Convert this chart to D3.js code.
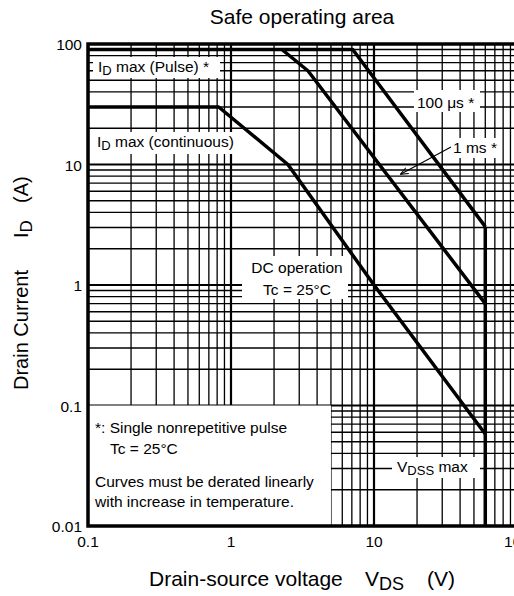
<!DOCTYPE html>
<html>
<head>
<meta charset="utf-8">
<script src="https://cdn.jsdelivr.net/npm/d3@7"></script>
<style>
  body { margin: 0; background: #fff; }
  text { font-family: "Liberation Sans", Arial, sans-serif; fill: #000; }
</style>
</head>
<body>
<div id="chart"></div>
<script>
// safe operating area chart

var xTickLabels = ['0.1', '1', '10', '100'];
var yTickLabels = ['0.01', '0.1', '1', '10', '100'];

// curves (V, A)
var pulse100usV = [0.1, 7.1, 60];
var pulse100usA = [90, 90, 3.05];
var pulse1msV = [2.27, 3.45, 60];
var pulse1msA = [90, 60, 0.7];
var dcV = [0.1, 0.82, 2.5, 10, 60];
var dcA = [30, 30, 10, 1, 0.058];
var vdssV = [60, 60];
var vdssA = [3.05, 0.01];

var width = 514, height = 596;
var plotLeft = 88, plotRight = 517, plotTop = 44, plotBottom = 526;

var x = d3.scaleLog().domain([0.1, 100]).range([plotLeft, plotRight]);
var y = d3.scaleLog().domain([0.01, 100]).range([plotBottom, plotTop]);

var svg = d3.select('#chart').append('svg')
  .attr('width', width)
  .attr('height', height);

var defs = svg.append('defs');

defs.append('clipPath').attr('id', 'plot')
  .append('rect').attr('x', plotLeft).attr('y', plotTop)
  .attr('width', plotRight - plotLeft).attr('height', plotBottom - plotTop);

var grid = svg.append('g').attr('clip-path', 'url(#plot)');

function gridValues(lo, hi) {
  var vals = [];
  for (var d = lo; d < hi * 1.001; d *= 10) {
    for (var m = 1; m <= 9; m++) {
      if (d * m <= hi * 1.001) vals.push({ v: d * m, major: m === 1 });
    }
  }
  return vals;
}

gridValues(0.1, 100).forEach(function(g) {
  grid.append('line')
    .attr('x1', x(g.v)).attr('x2', x(g.v))
    .attr('y1', plotTop).attr('y2', plotBottom)
    .attr('stroke', '#000')
    .attr('stroke-width', g.major ? 2.2 : 1.3);
});

gridValues(0.01, 100).forEach(function(g) {
  grid.append('line')
    .attr('x1', plotLeft).attr('x2', plotRight)
    .attr('y1', y(g.v)).attr('y2', y(g.v))
    .attr('stroke', '#000')
    .attr('stroke-width', g.major ? 2.2 : 1.3);
});

// white note area in the lower left
grid.append('rect')
  .attr('x', plotLeft).attr('y', y(0.1))
  .attr('width', x(5) - plotLeft).attr('height', plotBottom - y(0.1))
  .attr('fill', '#fff');

var line = d3.line()
  .x(function(d) { return x(d[0]); })
  .y(function(d) { return y(d[1]); });

function pairs(vs, as) {
  return vs.map(function(v, i) { return [v, as[i]]; });
}

[pairs(pulse100usV, pulse100usA), pairs(pulse1msV, pulse1msA), pairs(dcV, dcA), pairs(vdssV, vdssA)]
  .forEach(function(data) {
    grid.append('path')
      .attr('d', line(data))
      .attr('fill', 'none')
      .attr('stroke', '#000')
      .attr('stroke-width', 3.5)
      .attr('stroke-linejoin', 'round');
  });

// frame
svg.append('path')
  .attr('d', 'M' + plotRight + ',' + plotTop + 'H' + plotLeft + 'V' + plotBottom + 'H' + plotRight)
  .attr('fill', 'none')
  .attr('stroke', '#000')
  .attr('stroke-width', 3.5);

// label boxes
function box(bx, by, bw, bh) {
  svg.append('rect').attr('x', bx).attr('y', by)
    .attr('width', bw).attr('height', bh).attr('fill', '#fff');
}

function label(tx, ty, parts, anchor) {
  var t = svg.append('text')
    .attr('x', tx).attr('y', ty)
    .attr('font-size', 15.5)
    .attr('text-anchor', anchor || 'start');
  parts.forEach(function(p) {
    var s = t.append('tspan').text(p[0]);
    if (p[1] === 'sub') s.attr('font-size', 13).attr('dy', 3);
    if (p[1] === 'up') s.attr('dy', -3);
  });
  return t;
}

box(93, 57, 127, 21);
label(98, 72, [['I'], ['D', 'sub'], [' max (Pulse) *', 'up']]);

box(93, 132, 150, 22);
label(97, 147, [['I'], ['D', 'sub'], [' max (continuous)', 'up']]);

box(414, 90, 66, 22);
label(417, 108, [['100 \u03bcs *']]);

box(451, 138, 49, 20);
label(453, 153, [['1 ms *']]);

defs.append('marker')
  .attr('id', 'arrow').attr('viewBox', '0 0 10 10')
  .attr('refX', 9).attr('refY', 5)
  .attr('markerWidth', 8).attr('markerHeight', 8)
  .attr('markerUnits', 'userSpaceOnUse')
  .attr('orient', 'auto')
  .append('path').attr('d', 'M0,1 L10,5 L0,9').attr('fill', 'none')
  .attr('stroke', '#000').attr('stroke-width', 1.3);

svg.append('line')
  .attr('x1', 451).attr('y1', 147).attr('x2', 401).attr('y2', 174)
  .attr('stroke', '#000').attr('stroke-width', 1.1)
  .attr('marker-end', 'url(#arrow)');

box(242, 256, 106, 43);
label(297, 273, [['DC operation']], 'middle');
label(297, 295, [['Tc = 25\u00b0C']], 'middle');

label(95, 433, [['*: Single nonrepetitive pulse']]);
label(110, 454, [['Tc = 25\u00b0C']]);
label(95, 487, [['Curves must be derated linearly']]);
label(95, 507, [['with increase in temperature.']]);

box(392, 457, 88, 21);
label(397, 472, [['V'], ['DSS', 'sub'], [' max', 'up']]);

// tick labels
yTickLabels.forEach(function(t) {
  svg.append('text')
    .attr('x', 82).attr('y', y(+t) + 6)
    .attr('text-anchor', 'end')
    .attr('font-size', 15.5)
    .text(t);
});

xTickLabels.forEach(function(t) {
  svg.append('text')
    .attr('x', x(+t)).attr('y', 547)
    .attr('text-anchor', 'middle')
    .attr('font-size', 15.5)
    .text(t);
});

// titles
svg.append('text')
  .attr('x', 302).attr('y', 24)
  .attr('text-anchor', 'middle')
  .attr('font-size', 21)
  .text('Safe operating area');

var xLab = svg.append('g').attr('font-size', 21);
xLab.append('text').attr('x', 149).attr('y', 586).text('Drain-source voltage');
var vds = xLab.append('text').attr('x', 365).attr('y', 586);
vds.append('tspan').text('V');
vds.append('tspan').attr('font-size', 18).attr('dy', 4).text('DS');
xLab.append('text').attr('x', 427).attr('y', 586).text('(V)');

var yLab = svg.append('g').attr('font-size', 20)
  .attr('transform', 'rotate(-90)');
yLab.append('text').attr('x', -390).attr('y', 28).text('Drain Current');
var idl = yLab.append('text').attr('x', -238).attr('y', 28);
idl.append('tspan').text('I');
idl.append('tspan').attr('font-size', 17).attr('dy', 4).text('D');
yLab.append('text').attr('x', -203).attr('y', 28).text('(A)');
</script>
</body>
</html>
